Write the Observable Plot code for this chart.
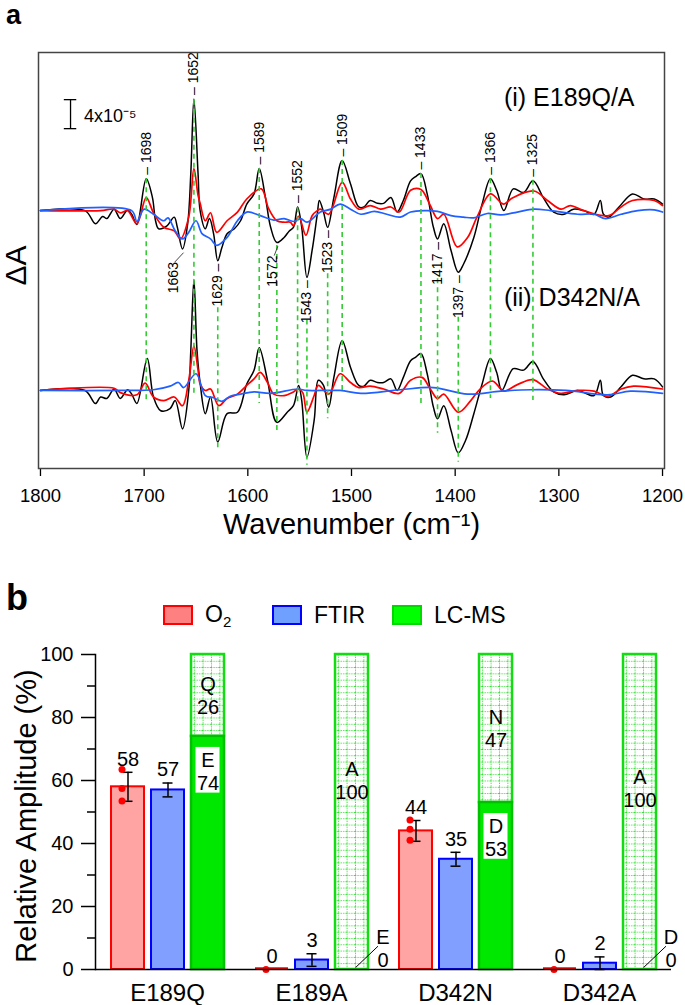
<!DOCTYPE html>
<html><head><meta charset="utf-8">
<script src="https://cdn.jsdelivr.net/npm/d3@7"></script>
<script src="https://cdn.jsdelivr.net/npm/@observablehq/plot@0.6"></script>
<style>
body{margin:0;background:#fff;font-family:"Liberation Sans",Arial,sans-serif;}
#wrap{position:relative;width:685px;height:1005px;overflow:hidden;}
#a{position:absolute;left:0;top:0;}
#b{position:absolute;left:0;top:560px;}
.plabel{position:absolute;font-weight:bold;line-height:1;}
.lg{position:absolute;top:604px;height:22px;display:flex;align-items:center;font-size:23px;}
.sw{width:30px;height:20px;margin-right:12px;box-sizing:border-box;}
</style></head>
<body><div id="wrap"><div id="a"></div><div id="b"></div></div>
<script>
// ---------------- Panel a data (wavenumber cm-1, ΔA in 1e-5 units) ----------------
const xTicks = [1800, 1700, 1600, 1500, 1400, 1300, 1200];
const topOffset = 24.8;
const topBlack = [[1800,0],[1757,0],[1747,-1.8],[1740,-0.8],[1736,-1.1],[1729,0.2],[1723,-1.1],[1716,0.1],[1712,-0.5],[1707,-1.9],[1698,4.4],[1692,1.8],[1689,-1.4],[1686,-2.5],[1678,-2.1],[1671,-0.9],[1668,-2.3],[1663,-5.3],[1658,-1.8],[1655,5.1],[1652,15.4],[1648,5.1],[1646,0],[1641,-2.5],[1637,-1.1],[1633,-3.2],[1629,-6.9],[1625,-5.1],[1620,-3.2],[1613,-2.5],[1607,-1.4],[1601,0.9],[1594,2.3],[1589,5.8],[1583,1.8],[1578,-2.3],[1572,-4.4],[1565,-3.7],[1560,-2.8],[1556,-2.3],[1552,0.5],[1548,-2.3],[1543,-9.2],[1538,-5.5],[1533,-0.5],[1531,1.4],[1527,-0.2],[1523,-2.3],[1517,1.8],[1509,6.9],[1501,3.7],[1493,0.5],[1488,0.5],[1482,1.4],[1475,1.0],[1469,1.0],[1462,1.8],[1456,-0.2],[1450,1.4],[1443,4.1],[1438,4.7],[1433,5.1],[1427,2.3],[1421,-2.3],[1417,-3.9],[1411,-1.8],[1404,-5.5],[1397,-8.5],[1392,-7.4],[1382,-3.7],[1374,0.9],[1366,4.4],[1360,2.8],[1353,0],[1344,3.0],[1334,2.5],[1325,4.1],[1315,1.8],[1305,-0.2],[1295,-0.5],[1286,0.2],[1276,0],[1266,-0.5],[1260,1.4],[1257,-0.5],[1252,-0.9],[1242,0.5],[1229,2.3],[1218,1.6],[1208,1.6],[1200,0.9]];
const topRed = [[1800,0],[1742,0],[1729,0.2],[1723,-0.3],[1716,0],[1707,-1.8],[1698,1.8],[1691,-0.3],[1681,-2.3],[1671,-2.8],[1665,-3.9],[1657,-0.9],[1652,5.8],[1648,2.1],[1646,1.0],[1641,-1.4],[1636,-0.3],[1630,-3.0],[1620,-1.4],[1610,-0.2],[1601,1.6],[1587,3.0],[1580,0.3],[1572,-1.4],[1565,-1.6],[1559,-1.6],[1556,-2.1],[1551,-0.8],[1544,-3.4],[1538,-0.7],[1533,0],[1530,0.2],[1522,-0.5],[1509,3.9],[1501,1.6],[1493,0.2],[1482,0.7],[1472,0.2],[1462,0.5],[1454,-0.2],[1443,2.8],[1433,2.9],[1424,0.7],[1417,-1.1],[1411,-0.5],[1398,-5.0],[1388,-3.7],[1379,-0.9],[1366,2.3],[1356,1.1],[1353,0.9],[1344,1.8],[1324,2.7],[1311,1.4],[1298,0.2],[1289,0.7],[1276,0],[1252,-0.7],[1240,0.5],[1229,1.4],[1208,1.4],[1200,0.7]];
const topBlue = [[1800,0],[1712,0],[1707,-1.5],[1700,0.2],[1691,-0.5],[1681,-1.4],[1677,-1.0],[1670,-2.8],[1663,-3.9],[1657,-3.0],[1650,-1.4],[1644,-3.2],[1636,-3.9],[1630,-4.8],[1620,-3.7],[1610,-1.4],[1601,-0.2],[1588,-0.7],[1575,-1.3],[1565,-1.1],[1556,-1.5],[1549,-1.1],[1543,-1.6],[1530,-0.2],[1520,0.2],[1511,0.9],[1501,0.2],[1491,-0.5],[1478,-0.1],[1466,-0.5],[1453,-0.9],[1443,-0.2],[1430,0],[1417,-0.1],[1404,-0.7],[1392,-0.9],[1382,-1.0],[1369,-0.4],[1356,-0.6],[1340,-0.2],[1324,0.2],[1308,0],[1282,-0.5],[1266,-0.5],[1255,-1.1],[1240,-0.5],[1224,0],[1208,0.1],[1200,-0.2]];
const botBlack = [[1800,0],[1757,0],[1747,-1.8],[1742,-0.9],[1736,-1.1],[1729,0.2],[1723,-1.1],[1716,0.1],[1712,-0.5],[1707,-1.8],[1697,4.4],[1691,-0.9],[1684,-2.8],[1675,-2.5],[1670,-1.4],[1663,-5.3],[1657,0],[1655,5.5],[1652,15.3],[1649,5.5],[1646,1.0],[1641,-3.2],[1636,-0.9],[1629,-7.1],[1620,-3.2],[1610,-3.0],[1601,0.9],[1594,2.8],[1589,5.9],[1581,1.4],[1572,-4.4],[1562,-3.0],[1556,-2.1],[1551,0.7],[1548,-1.4],[1543,-9.2],[1536,-4.1],[1532,1.4],[1527,0.7],[1522,-2.3],[1517,1.8],[1509,6.9],[1501,3.2],[1493,0.7],[1488,0.6],[1482,1.4],[1475,1.1],[1469,1.1],[1462,1.6],[1456,0],[1450,1.8],[1443,4.1],[1438,4.6],[1433,5.1],[1427,2.3],[1421,-2.3],[1417,-3.9],[1411,-2.1],[1404,-5.5],[1397,-8.6],[1390,-6.9],[1382,-3.2],[1374,0.9],[1366,4.4],[1360,2.5],[1355,0],[1344,3.0],[1334,2.8],[1325,4.0],[1315,1.6],[1305,-0.2],[1295,-0.6],[1282,0],[1266,-0.7],[1260,1.4],[1257,-0.7],[1250,-0.9],[1240,0.5],[1229,2.1],[1218,1.6],[1208,1.6],[1200,0.5]];
const botRed = [[1800,0],[1729,0.3],[1723,-0.3],[1707,-0.6],[1699,1.0],[1691,-0.9],[1681,-1.4],[1671,-0.9],[1663,-2.1],[1657,1.4],[1652,6.1],[1648,2.8],[1646,0.9],[1641,0],[1636,0.2],[1628,-2.1],[1620,-1.1],[1610,-0.5],[1601,0.7],[1594,1.6],[1588,2.5],[1581,1.1],[1575,-0.5],[1565,-0.7],[1556,-0.2],[1551,0.2],[1547,-0.3],[1543,-3.0],[1536,-0.7],[1532,0.7],[1522,-0.5],[1511,2.3],[1501,1.1],[1493,0.4],[1482,0.6],[1469,0.2],[1454,-0.4],[1443,1.4],[1432,1.8],[1424,0.2],[1417,-1.1],[1411,-0.5],[1397,-3.0],[1385,-1.4],[1376,0.2],[1364,1.3],[1356,0.2],[1353,-0.1],[1340,0.8],[1325,1.5],[1311,0.2],[1298,-0.4],[1282,0],[1266,-0.1],[1253,-0.8],[1240,0.2],[1228,0.6],[1200,0.2]];
const botBlue = [[1800,0],[1723,0],[1691,0.1],[1675,0.6],[1667,1.1],[1662,0.4],[1650,2.3],[1641,-0.7],[1633,-1.0],[1625,-1.5],[1617,-0.8],[1607,-0.5],[1594,-0.2],[1578,-0.4],[1552,0.2],[1543,0],[1511,0],[1491,-0.4],[1453,0.1],[1421,0.4],[1388,-0.5],[1356,-0.1],[1327,0.1],[1293,0],[1253,-0.6],[1231,-0.1],[1200,-0.4]];
const upPeaks = [1698, 1652, 1589, 1552, 1509, 1433, 1366, 1325];
const downPeaks = [1629, 1543, 1523, 1417, 1397];
const leaderPeaks = [1663, 1572];
const leaderLabelW = [1672, 1576];
const greenW = [1698, 1652, 1629, 1589, 1572, 1552, 1543, 1523, 1509, 1433, 1417, 1397, 1366, 1325];
const greenTop = [29.2, 40.0, 11.4, 30.6, 20.0, 25.2, 9.7, 16.1, 31.7, 29.9, 15.4, 10.1, 29.2, 29.0];
const greenBottom = [-1.7, -0.4, -8.3, -1.8, -5.8, -1.8, -10.3, -3.9, -0.3, -2.1, -5.9, -9.9, -1.1, -1.4];
const scaleBarW = 1771;
const scaleBarY = [36.1, 40.1]; // 4 ×10^-5

// ---------------- Panel b data ----------------
const groups = ["E189Q", "E189A", "D342N", "D342A"];
const series = ["O₂", "FTIR", "LC-MS"];
const o2Mean = [58, 0, 44, 0];
const o2Err = [4.6, 0, 3.3, 0];
const o2Points = [[63.5, 57.5, 53.5], [0], [47.5, 44.5, 41], [0]];
const ftirMean = [57, 3, 35, 2];
const ftirErr = [2.2, 2, 2.2, 2];
const lcNative = [74, 0, 53, 0];
const lcNativeRes = ["E", "E", "D", "D"];
const lcMutant = [26, 100, 47, 100];
const lcMutantRes = ["Q", "A", "N", "A"];
const lcMutantLabelAt = [87, 60, 76.5, 57.5];
const yTicks = [0, 20, 40, 60, 80, 100];
const yMinor = [10, 30, 50, 70, 90];

const FONT = "'Liberation Sans', Arial, sans-serif";

// ---------- build panel a ----------
const toRows = (arr, trace, off) => arr.map(([w, v]) => ({w, v: v + off, trace}));
const blackRows = [...toRows(topBlack, "i", topOffset), ...toRows(botBlack, "ii", 0)];
const redRows = [...toRows(topRed, "i", topOffset), ...toRows(botRed, "ii", 0)];
const blueRows = [...toRows(topBlue, "i", topOffset), ...toRows(botBlue, "ii", 0)];
const valueAt = (arr, w) => arr.reduce((b, p) => Math.abs(p[0] - w) < Math.abs(b[0] - w) ? p : b)[1];
const upRows = upPeaks.map(w => ({w, v: valueAt(topBlack, w) + topOffset, t: "– " + w}));
const downRows = downPeaks.map(w => ({w, v: valueAt(topBlack, w) + topOffset, t: w + " –"}));
const leadRows = leaderPeaks.map((w, i) => ({w, lw: leaderLabelW[i], v: valueAt(topBlack, w) + topOffset, t: String(w)}));
const greenRows = greenW.map((w, i) => ({w, top: greenTop[i], bottom: greenBottom[i]}));

const plotA = Plot.plot({
  width: 685, height: 560, marginTop: 52, marginBottom: 92, marginLeft: 38, marginRight: 21,
  x: {domain: [1801.9, 1198.1]},
  y: {domain: [-10.76, 46.6], axis: null},
  style: {fontFamily: FONT, color: "black", background: "white"},
  marks: [
    Plot.axisX({ticks: xTicks, tickSize: 8, tickPadding: 12, fontSize: 18.5, label: null, tickFormat: d => String(d), strokeWidth: 1.3}),
    Plot.line(blackRows, {x: "w", y: "v", z: "trace", stroke: "black", strokeWidth: 1.5, curve: "catmull-rom"}),
    Plot.line(redRows, {x: "w", y: "v", z: "trace", stroke: "#ff0000", strokeWidth: 1.7, curve: "catmull-rom"}),
    Plot.line(blueRows, {x: "w", y: "v", z: "trace", stroke: "#2060ff", strokeWidth: 1.7, curve: "catmull-rom"}),
    Plot.ruleX(greenRows, {x: "w", y1: "top", y2: "bottom", stroke: "#33cc33", strokeWidth: 1.6, strokeDasharray: "5 4"}),
    Plot.text(upRows, {x: "w", y: "v", text: "t", rotate: -90, textAnchor: "start", dy: -4, fontSize: 14}),
    Plot.text(downRows, {x: "w", y: "v", text: "t", rotate: -90, textAnchor: "end", dy: 3, fontSize: 14}),
    Plot.text(leadRows, {x: "lw", y: "v", text: "t", rotate: -90, textAnchor: "end", dy: 13, fontSize: 14}),
    Plot.link(leadRows, {x1: d => d.w - 1, y1: d => d.v - 0.5, x2: d => d.lw - 1.5, y2: d => d.v - 1.8, stroke: "#333", strokeWidth: 0.9}),
    Plot.ruleX([scaleBarW], {y1: scaleBarY[0], y2: scaleBarY[1], strokeWidth: 1.3}),
    Plot.ruleY(scaleBarY, {x1: scaleBarW + 6, x2: scaleBarW - 6, strokeWidth: 1.3}),
    Plot.text(["4x10⁻⁵"], {x: 1758, y: 37.8, textAnchor: "start", fontSize: 18}),
    Plot.text(["(i) E189Q/A"], {x: 1353, y: 40.3, textAnchor: "start", fontSize: 25}),
    Plot.text(["(ii) D342N/A"], {x: 1353, y: 12.8, textAnchor: "start", fontSize: 25}),
    Plot.text(["ΔA"], {frameAnchor: "left", textAnchor: "middle", rotate: -90, dx: -22, dy: 5, fontSize: 30}),
    Plot.text(["Wavenumber (cm⁻¹)"], {frameAnchor: "bottom", textAnchor: "middle", dy: 65, fontSize: 29}),
    Plot.frame({stroke: "#444", strokeWidth: 1.5})
  ]
});
document.getElementById("a").appendChild(plotA);

// ---------- build panel b ----------
const o2Rows = groups.map((g, i) => ({g, s: "O₂", m: o2Mean[i], e: o2Err[i]}));
const ftirRows = groups.map((g, i) => ({g, s: "FTIR", m: ftirMean[i], e: ftirErr[i]}));
const solidRows = groups.map((g, i) => ({g, s: "LC-MS", lo: 0, hi: lcNative[i], res: lcNativeRes[i]}));
const hatchRows = groups.map((g, i) => ({g, s: "LC-MS", lo: lcNative[i], hi: 100, res: lcMutantRes[i], val: lcMutant[i], at: lcMutantLabelAt[i]}));
const errRows = [...o2Rows, ...ftirRows].filter(d => d.e > 0);
const dotRows = groups.flatMap((g, i) => o2Points[i].map(v => ({g, v})));
const boxedRows = solidRows.filter(d => d.hi > 0);
const zeroRows = solidRows.filter(d => d.hi === 0);
const zeroO2 = o2Rows.filter(d => d.m === 0);

const plotB = Plot.plot({
  width: 685, height: 445, marginTop: 94, marginBottom: 36, marginLeft: 94, marginRight: 13,
  fx: {domain: groups, padding: 0, label: null},
  x: {domain: series, paddingInner: 0.185, paddingOuter: 0.377, axis: null},
  y: {domain: [0, 100], axis: null},
  style: {fontFamily: FONT, color: "black", background: "white"},
  marks: [
    Plot.barY(hatchRows, {fx: "g", x: "s", y1: "lo", y2: "hi", fill: "url(#lcgrid)", stroke: "#11dd11", strokeWidth: 2.5}),
    Plot.barY(solidRows, {fx: "g", x: "s", y1: "lo", y2: "hi", fill: "#00e800", stroke: "#00c000", strokeWidth: 2.5}),
    Plot.barY(o2Rows, {fx: "g", x: "s", y: "m", fill: "#ffa3a3", stroke: "#ff0000", strokeWidth: 2}),
    Plot.tickY(zeroO2, {fx: "g", x: "s", y: d => d.m + 0.3, stroke: "#ff0000", strokeWidth: 2.5}),
    Plot.barY(ftirRows, {fx: "g", x: "s", y: "m", fill: "#809fff", stroke: "#0000ff", strokeWidth: 2}),
    Plot.barY(boxedRows, {fx: "g", x: "s", y1: d => d.hi - 18, y2: d => d.hi - 3.5, fill: "white", insetLeft: 4.5, insetRight: 4.5}),
    Plot.text(boxedRows, {fx: "g", x: "s", y: d => d.hi - 11, text: d => `${d.res}\n${d.hi}`, fontSize: 20, lineHeight: 1.15}),
    Plot.text(hatchRows, {fx: "g", x: "s", y: "at", text: d => `${d.res}\n${d.val}`, fontSize: 20, lineHeight: 1.15}),
    Plot.text(zeroRows, {fx: "g", x: "s", y: () => 6.7, text: d => `${d.res}\n0`, dx: 31, fontSize: 20, lineHeight: 1.15}),
    Plot.link(zeroRows, {fx: "g", x1: "s", x2: "s", y1: () => 0.6, y2: () => 7.4, stroke: "black", strokeWidth: 1,
      render(index, scales, values, dimensions, context, next) {
        const x1 = Array.from(values.x1, v => v + 3.5), x2 = Array.from(values.x2, v => v + 26);
        return next(index, scales, {...values, x1, x2}, dimensions, context);
      }}),
    Plot.ruleX(errRows, {fx: "g", x: "s", y1: d => d.m - d.e, y2: d => d.m + d.e, strokeWidth: 1.5}),
    Plot.tickY(errRows, {fx: "g", x: "s", y: d => d.m + d.e, insetLeft: 11.5, insetRight: 11.5, strokeWidth: 1.5}),
    Plot.tickY(errRows, {fx: "g", x: "s", y: d => d.m - d.e, insetLeft: 11.5, insetRight: 11.5, strokeWidth: 1.5}),
    Plot.dot(dotRows, {fx: "g", x: () => "O₂", y: "v", r: 3.5, fill: "#ff0000", dx: -6}),
    Plot.text([...o2Rows, ...ftirRows], {fx: "g", x: "s", y: d => d.m + d.e, text: d => String(d.m), dy: -13, fontSize: 20}),
    Plot.ruleY([0], {strokeWidth: 1.5}),
    Plot.frame({anchor: "left", facetAnchor: "left", strokeWidth: 1.5}),
    Plot.axisY({ticks: yTicks, tickSize: 14, tickPadding: 8, fontSize: 20, label: null, strokeWidth: 1.5}),
    Plot.axisY({ticks: yMinor, tickSize: 8, tickFormat: () => "", label: null, strokeWidth: 1.5}),
    Plot.axisFx({anchor: "bottom", tickSize: 0, tickPadding: 14, fontSize: 24, label: null}),
    Plot.text([{g: groups[0]}], {fx: "g", frameAnchor: "left", textAnchor: "middle", rotate: -90, text: () => "Relative Amplitude (%)", dx: -69, dy: 4, fontSize: 29})
  ]
});
const ns = "http://www.w3.org/2000/svg";
const defs = document.createElementNS(ns, "defs");
defs.innerHTML = `<pattern id="lcgrid" patternUnits="userSpaceOnUse" width="8.4" height="6.3">
<rect width="8.4" height="6.3" fill="white"/>
<line x1="0" y1="0.5" x2="8.4" y2="0.5" stroke="#22dd22" stroke-width="0.9" stroke-dasharray="1.2 1.2"/>
<line x1="0.5" y1="0" x2="0.5" y2="6.3" stroke="#22dd22" stroke-width="0.9" stroke-dasharray="1.2 1.2"/>
</pattern>`;
plotB.insertBefore(defs, plotB.firstChild);
document.getElementById("b").appendChild(plotB);

// ---------- panel letters & legend (HTML) ----------
const wrap = document.getElementById("wrap");
function addDiv(cls, html, css) { const d = document.createElement("div"); d.className = cls; d.innerHTML = html; Object.assign(d.style, css); wrap.appendChild(d); return d; }
addDiv("plabel", "a", {left: "6px", top: "0px", fontSize: "27px", lineHeight: "1.12"});
addDiv("plabel", "b", {left: "6px", top: "580px", fontSize: "36px"});
const legendItems = [
  {label: "O<sub style='font-size:15px;vertical-align:-5px'>2</sub>", fill: "#ff8080", border: "#ff0000", left: 163},
  {label: "FTIR", fill: "#70a0ff", border: "#0000ff", left: 272},
  {label: "LC-MS", fill: "#00ff00", border: "#00d800", left: 392}
];
legendItems.forEach(it => {
  addDiv("lg", `<div class="sw" style="background:${it.fill};border:2px solid ${it.border}"></div><span>${it.label}</span>`, {left: it.left + "px"});
});
</script></body></html>
